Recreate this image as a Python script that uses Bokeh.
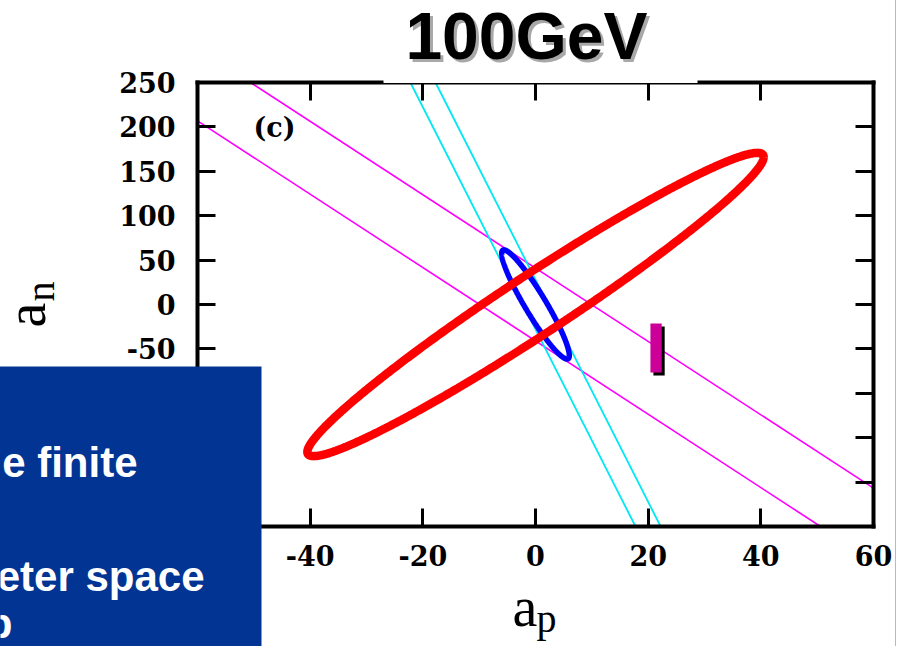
import numpy as np
from bokeh.plotting import figure
from bokeh.models import Range1d, LinearAxis, FixedTicker, Label
from bokeh.embed import file_html
from bokeh.resources import INLINE

# ---- axis ticks -------------------------------------------------------
x_ticks = [-60, -40, -20, 0, 20, 40, 60]
x_tick_labels = ["-60", "-40", "-20", "0", "20", "40", "60"]
y_ticks = [-250, -200, -150, -100, -50, 0, 50, 100, 150, 200, 250]
y_tick_labels = ["-250", "-200", "-150", "-100", "-50", "0", "50", "100", "150", "200", "250"]

# ---- straight bands: a_n = slope * a_p + intercept --------------------
cyan_slope = -12.51
cyan_intercepts = [-27.9, 27.9]
magenta_slope = -4.13
magenta_intercepts = [-41.0, 41.0]

# ---- ellipses: point of largest a_p, and half-height at a_p = 0 -------
red_tip_ap, red_tip_an, red_half = 40.5, 166.0, 40.0
blue_tip_ap, blue_tip_an, blue_half = 6.0, -57.4, 22.0

# ---- small bar ---------------------------------------------------------
bar_ap = [20.4, 22.4]
bar_an = [-76.6, -21.4]

# ---- canvas / plot box geometry (pixels) ------------------------------
W, H = 903, 646
FL, FR, FT, FB = 197, 873, 82, 526
XMIN, XMAX, YMIN, YMAX = -60, 60, -250, 250
BASE_SHIFT = 0.39  # baseline correction for Label text, in em


def px_x(px):
    return XMIN + (px - FL) / (FR - FL) * (XMAX - XMIN)


def px_y(py):
    return YMAX - (py - FT) / (FB - FT) * (YMAX - YMIN)


# the frame fills the whole page; the plot box is drawn with fixed-location axes
p = figure(width=W, height=H,
           x_range=Range1d(px_x(0), px_x(W)), y_range=Range1d(px_y(H), px_y(0)),
           output_backend="svg", toolbar_location=None,
           x_axis_location=None, y_axis_location=None,
           min_border=0)
p.grid.visible = False
p.outline_line_color = None
p.background_fill_color = "white"
p.border_fill_color = "white"


def make_axis(ticks, labels, show, standoff, loc, bounds):
    overrides = {t: (lab if show else "") for t, lab in zip(ticks, labels)}
    return LinearAxis(fixed_location=loc, bounds=bounds,
                      ticker=FixedTicker(ticks=ticks), major_label_overrides=overrides,
                      axis_line_width=4, axis_line_color="black", axis_line_cap="square",
                      major_tick_in=18, major_tick_out=0, major_tick_line_width=3,
                      minor_tick_in=0, minor_tick_out=0,
                      major_label_text_font="DejaVu Serif",
                      major_label_text_font_style="bold",
                      major_label_text_font_size="27px" if show else "0px",
                      major_label_text_color="black",
                      major_label_standoff=standoff)


p.add_layout(make_axis(x_ticks, x_tick_labels, True, 18, YMIN, (XMIN, XMAX)), "below")
p.add_layout(make_axis(x_ticks, x_tick_labels, False, 0, YMAX, (XMIN, XMAX)), "above")
p.add_layout(make_axis(y_ticks, y_tick_labels, True, 22, XMIN, (YMIN, YMAX)), "left")
p.add_layout(make_axis(y_ticks, y_tick_labels, False, 0, XMAX, (YMIN, YMAX)), "right")


def band_segment(m, b):
    """Part of the line a_n = m*a_p + b that lies inside the plot box."""
    xa, xb = sorted([(YMAX - b) / m, (YMIN - b) / m])
    x0, x1 = max(xa, XMIN), min(xb, XMAX)
    return x0, m * x0 + b, x1, m * x1 + b


mag = [band_segment(magenta_slope, b) for b in magenta_intercepts]
cya = [band_segment(cyan_slope, b) for b in cyan_intercepts]
p.segment(x0=[s[0] for s in mag], y0=[s[1] for s in mag], x1=[s[2] for s in mag], y1=[s[3] for s in mag],
          line_color="#ff00ff", line_width=1.6)
p.segment(x0=[s[0] for s in cya], y0=[s[1] for s in cya], x1=[s[2] for s in cya], y1=[s[3] for s in cya],
          line_color="#00e8f4", line_width=1.8)

# ellipses
t = np.linspace(0, 2 * np.pi, 721)
p.line(blue_tip_ap * np.cos(t), blue_tip_an * np.cos(t) + blue_half * np.sin(t),
       line_color="#0000ff", line_width=5.5)
p.line(red_tip_ap * np.cos(t), red_tip_an * np.cos(t) + red_half * np.sin(t),
       line_color="#ff0000", line_width=8.5)

# bar with a 3 px drop shadow
dx = 3 * (XMAX - XMIN) / (FR - FL)
dy = 3 * (YMAX - YMIN) / (FB - FT)
p.quad(left=[bar_ap[0] + dx], right=[bar_ap[1] + dx], bottom=[bar_an[0] - dy], top=[bar_an[1] - dy],
       fill_color="black", line_color=None)
p.quad(left=[bar_ap[0]], right=[bar_ap[1]], bottom=[bar_an[0]], top=[bar_an[1]],
       fill_color="#cc0099", line_color=None)


def label(text, x_px, base_px, size, font, rotated=False, **kw):
    """Text whose baseline sits at the given pixel position."""
    shift = BASE_SHIFT * size
    if rotated:
        x, y, ang = px_x(x_px - shift), px_y(base_px), np.pi / 2
    else:
        x, y, ang = px_x(x_px), px_y(base_px - shift), 0.0
    kw.setdefault("text_color", "black")
    return Label(x=x, y=y, text=text, text_font=font, text_font_size=f"{size}px",
                 text_baseline="alphabetic", angle=ang, **kw)


# panel tag
p.add_layout(label("(c)", 253, 138, 27, "DejaVu Serif", text_font_style="bold"))

# axis titles
p.add_layout(label("a", 512, 628, 56, "Liberation Serif"))
p.add_layout(label("p", 536, 634, 40, "Liberation Serif"))
p.add_layout(label("a", 47, 327, 56, "Liberation Serif", rotated=True))
p.add_layout(label("n", 56, 301, 40, "Liberation Serif", rotated=True))

# slide pieces around the chart (drawn above the axes)
p.quad(left=[px_x(894.5)], right=[px_x(895.5)], top=[px_y(-5)], bottom=[px_y(H + 5)],
       fill_color="#f4a0a0", line_color=None, level="overlay")
p.quad(left=[px_x(383)], right=[px_x(697)], top=[px_y(-5)], bottom=[px_y(82.5)],
       fill_color="white", line_color=None, level="overlay")
p.quad(left=[px_x(-5)], right=[px_x(261)], top=[px_y(366)], bottom=[px_y(H + 5)],
       fill_color="#023494", line_color=None, level="overlay")

p.add_layout(label("100GeV", 526, 61, 66, "Liberation Sans", text_font_style="bold",
                   text_color="#a8a8a8", text_align="center", x_offset=3, y_offset=-3,
                   level="overlay"))
p.add_layout(label("100GeV", 526, 61, 66, "Liberation Sans", text_font_style="bold",
                   text_color="black", text_align="center", level="overlay"))

for txt, right_px, base_px in [("e finite", 137, 478), ("eter space", 204, 592), ("p", 12, 639)]:
    p.add_layout(label(txt, right_px, base_px, 42, "Liberation Sans", text_font_style="bold",
                       text_color="white", text_align="right", level="overlay"))

open("out.html", "w").write(file_html(p, INLINE))
